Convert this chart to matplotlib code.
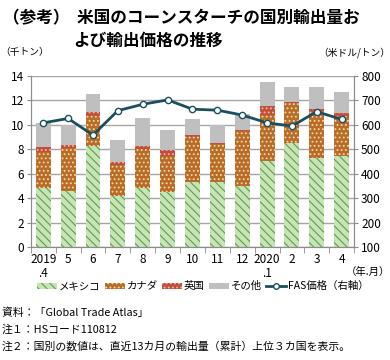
import numpy as np
import matplotlib
matplotlib.use("Agg")
import matplotlib.pyplot as plt
from matplotlib.lines import Line2D
from matplotlib.patches import Patch

plt.rcParams['font.family'] = ['Noto Sans CJK JP', 'DejaVu Sans']
plt.rcParams['hatch.linewidth'] = 0.8

# data (thousand tons, USD/ton)
months = ["2019\n.4", "5", "6", "7", "8", "9", "10", "11", "12", "2020\n.1", "2", "3", "4"]
mexico = [4.8, 4.6, 8.3, 4.2, 4.8, 4.5, 5.3, 5.3, 5.0, 7.05, 8.55, 7.25, 7.45]
canada = [3.0, 3.5, 2.4, 2.5, 3.25, 2.95, 3.7, 3.1, 4.5, 3.75, 3.25, 3.8, 3.15]
uk = [0.4, 0.22, 0.35, 0.27, 0.2, 0.5, 0.2, 0.15, 0.07, 0.75, 0.07, 0.22, 0.4]
other = [1.97, 1.66, 1.47, 1.78, 2.27, 1.59, 1.31, 1.42, 1.31, 1.93, 1.23, 1.8, 1.67]
fas_price = [608, 626, 558, 658, 684, 702, 664, 660, 640, 608, 595, 654, 622]

x = np.arange(len(months))
w = 0.6

fig = plt.figure(figsize=(3.9, 3.6), dpi=100)
ax = fig.add_axes([0.079, 0.314, 0.829, 0.475])
ax2 = ax.twinx()

b1 = np.array(mexico)
b2 = b1 + np.array(canada)
b3 = b2 + np.array(uk)

ax.bar(x, mexico, w, color='#c9e3b8', edgecolor='#5aa045', hatch='\\\\\\\\', linewidth=0, zorder=2)
ax.bar(x, canada, w, bottom=b1, color='#b86c28', edgecolor='#f3d9a8', hatch='....', linewidth=0, zorder=2)
ax.bar(x, uk, w, bottom=b2, color='#c24f3c', edgecolor='#f0b8a8', hatch='....', linewidth=0, zorder=2)
ax.bar(x, other, w, bottom=b3, color='#bfbfbf', linewidth=0, zorder=2)

ax2.plot(x, fas_price, color='#1c4f5e', lw=2, marker='o', ms=4.5,
         mfc='white', mec='#1c4f5e', mew=1.0, zorder=5)

ax.set_xlim(-0.5, len(months) - 0.5)
ax.set_ylim(0, 14)
ax.set_yticks(range(0, 15, 2))
ax2.set_ylim(100, 800)
ax2.set_yticks(range(100, 801, 100))

ax.grid(axis='y', color='#a6a6a6', lw=1.0, zorder=0)
ax.set_axisbelow(True)

for a in (ax, ax2):
    a.spines['top'].set_visible(False)
    for s in ('left', 'right', 'bottom'):
        a.spines[s].set_color('#8c8c8c')
    a.tick_params(axis='y', labelsize=8.5, color='#8c8c8c', length=3, pad=2)

ax.set_xticks(x)
ax.set_xticklabels(months, fontsize=8.5, linespacing=1.15, va='top')
ax.set_xticks(np.arange(-0.5, len(months)), minor=True)
ax.tick_params(axis='x', which='major', length=0, pad=4)
ax.tick_params(axis='x', which='minor', length=4, color='#8c8c8c')

fig.text(0.008, 0.975, "（参考）  米国のコーンスターチの国別輸出量お", fontsize=12,
         fontweight='bold', va='top', ha='left')
fig.text(0.187, 0.912, "よび輸出価格の推移", fontsize=12,
         fontweight='bold', va='top', ha='left')
fig.text(0.0, 0.855, "（千トン）", fontsize=7, va='center', ha='left')
fig.text(1.0, 0.855, "（米ドル/トン）", fontsize=7, va='center', ha='right')
fig.text(1.0, 0.244, "（年.月）", fontsize=7.5, va='center', ha='right')

handles = [
    Patch(facecolor='#c9e3b8', edgecolor='#5aa045', hatch='\\\\\\\\', linewidth=0),
    Patch(facecolor='#b86c28', edgecolor='#f3d9a8', hatch='....', linewidth=0),
    Patch(facecolor='#c24f3c', edgecolor='#f0b8a8', hatch='....', linewidth=0),
    Patch(facecolor='#bfbfbf', linewidth=0),
    Line2D([0], [0], color='#1c4f5e', lw=2, marker='o', ms=4, mfc='white', mec='#1c4f5e'),
]
labels = ["メキシコ", "カナダ", "英国", "その他", "FAS価格（右軸）"]
fig.legend(handles, labels, loc='center', bbox_to_anchor=(0.52, 0.205), ncol=5,
           frameon=False, fontsize=7.5, handlelength=1.9, handleheight=0.5,
           handletextpad=0.2, columnspacing=0.4)

notes = ["資料：「Global Trade Atlas」",
         "注１：HSコード110812",
         "注２：国別の数値は、直近13カ月の輸出量（累計）上位３カ国を表示。"]
for i, t in enumerate(notes):
    fig.text(0.005, 0.131 - i * 0.047, t, fontsize=7.8, va='center', ha='left')

fig.savefig("out.png", dpi=100)
